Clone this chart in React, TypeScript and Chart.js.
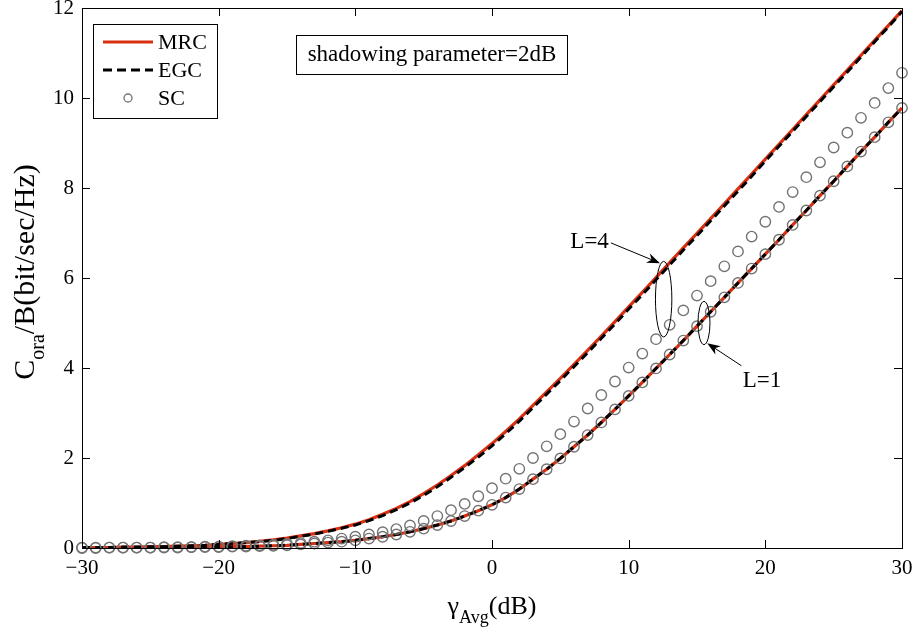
import React, { useEffect, useRef } from 'react';
import { Chart, registerables } from 'chart.js';

Chart.register(...registerables);

// ---------- data ----------
const gammaDb = [
  -30, -29, -28, -27, -26, -25, -24, -23, -22, -21,
  -20, -19, -18, -17, -16, -15, -14, -13, -12, -11,
  -10, -9, -8, -7, -6, -5, -4, -3, -2, -1,
  0, 1, 2, 3, 4, 5, 6, 7, 8, 9,
  10, 11, 12, 13, 14, 15, 16, 17, 18, 19,
  20, 21, 22, 23, 24, 25, 26, 27, 28, 29, 30,
];

// L = 4, MRC
const mrcL4 = [
  0.01, 0.01, 0.01, 0.02, 0.02, 0.03, 0.03, 0.04, 0.05, 0.06,
  0.08, 0.10, 0.12, 0.15, 0.18, 0.22, 0.27, 0.32, 0.38, 0.45,
  0.53, 0.63, 0.75, 0.88, 1.03, 1.21, 1.40, 1.61, 1.83, 2.07,
  2.32, 2.59, 2.87, 3.17, 3.47, 3.77, 4.08, 4.39, 4.71, 5.03,
  5.36, 5.68, 6.01, 6.34, 6.67, 6.99, 7.32, 7.65, 7.98, 8.31,
  8.64, 8.97, 9.30, 9.63, 9.96, 10.29, 10.62, 10.95, 11.28, 11.61, 11.94,
];

// L = 4, EGC
const egcL4 = [
  0.01, 0.01, 0.01, 0.02, 0.02, 0.03, 0.03, 0.04, 0.05, 0.06,
  0.08, 0.10, 0.12, 0.14, 0.17, 0.21, 0.26, 0.31, 0.37, 0.44,
  0.51, 0.61, 0.72, 0.85, 1.00, 1.17, 1.36, 1.57, 1.79, 2.02,
  2.27, 2.54, 2.82, 3.12, 3.42, 3.72, 4.03, 4.34, 4.66, 4.98,
  5.31, 5.63, 5.96, 6.29, 6.62, 6.94, 7.27, 7.60, 7.93, 8.26,
  8.60, 8.93, 9.26, 9.59, 9.92, 10.25, 10.58, 10.91, 11.25, 11.58, 11.92,
];

// L = 4, SC
const scL4 = [
  0.01, 0.01, 0.01, 0.01, 0.01, 0.01, 0.02, 0.02, 0.02, 0.03,
  0.03, 0.04, 0.05, 0.06, 0.07, 0.09, 0.11, 0.14, 0.17, 0.21,
  0.25, 0.30, 0.35, 0.42, 0.50, 0.60, 0.71, 0.84, 0.98, 1.15,
  1.33, 1.54, 1.76, 2.00, 2.26, 2.53, 2.81, 3.10, 3.40, 3.70,
  4.01, 4.32, 4.64, 4.96, 5.28, 5.61, 5.93, 6.26, 6.59, 6.92,
  7.25, 7.58, 7.91, 8.24, 8.57, 8.90, 9.23, 9.56, 9.89, 10.22, 10.56,
];

// L = 1 (MRC = EGC = SC)
const capL1 = [
  0.00, 0.00, 0.01, 0.01, 0.01, 0.01, 0.01, 0.01, 0.02, 0.02,
  0.02, 0.03, 0.03, 0.04, 0.05, 0.06, 0.08, 0.10, 0.12, 0.14,
  0.17, 0.21, 0.25, 0.30, 0.36, 0.43, 0.51, 0.60, 0.71, 0.83,
  0.96, 1.12, 1.31, 1.53, 1.75, 1.99, 2.25, 2.51, 2.79, 3.08,
  3.38, 3.68, 3.99, 4.30, 4.61, 4.93, 5.25, 5.57, 5.89, 6.21,
  6.53, 6.85, 7.18, 7.50, 7.83, 8.15, 8.48, 8.81, 9.13, 9.46, 9.78,
];

const xTicks = [-30, -20, -10, 0, 10, 20, 30];
const yTicks = [0, 2, 4, 6, 8, 10, 12];

const legendLabels = ['MRC', 'EGC', 'SC'];
const noteText = 'shadowing parameter=2dB';

// ---------- styles ----------
const RED = 'rgb(217,48,18)';
const GRAY = 'rgb(115,115,115)';
const FONT = '"Liberation Serif", "Times New Roman", serif';

const pts = (ys: number[]) => gammaDb.map((x, i) => ({ x, y: ys[i] }));
const fmt = (v: number) => (v < 0 ? '\u2212' + Math.abs(v) : String(v));

function drawArrow(ctx: CanvasRenderingContext2D, x0: number, y0: number, x1: number, y1: number) {
  const ang = Math.atan2(y1 - y0, x1 - x0);
  const len = 13;
  const half = 5;
  ctx.save();
  ctx.strokeStyle = '#000';
  ctx.fillStyle = '#000';
  ctx.lineWidth = 1;
  ctx.beginPath();
  ctx.moveTo(x0, y0);
  ctx.lineTo(x1 - Math.cos(ang) * 6, y1 - Math.sin(ang) * 6);
  ctx.stroke();
  ctx.translate(x1, y1);
  ctx.rotate(ang);
  ctx.beginPath();
  ctx.moveTo(0, 0);
  ctx.lineTo(-len, -half);
  ctx.lineTo(-len * 0.7, 0);
  ctx.lineTo(-len, half);
  ctx.closePath();
  ctx.fill();
  ctx.restore();
}

const decorPlugin = {
  id: 'decor',
  afterDatasetsDraw(chart: any) {
    const { ctx, chartArea: a, scales } = chart;
    const xs = scales.x;
    const ys = scales.y;
    ctx.save();
    // frame
    ctx.strokeStyle = '#000';
    ctx.lineWidth = 1;
    ctx.strokeRect(a.left + 0.5, a.top + 0.5, a.right - a.left, a.bottom - a.top);
    // inward ticks
    const tl = 8;
    ctx.beginPath();
    xTicks.forEach((v) => {
      const px = Math.round(xs.getPixelForValue(v)) + 0.5;
      ctx.moveTo(px, a.bottom);
      ctx.lineTo(px, a.bottom - tl);
      ctx.moveTo(px, a.top);
      ctx.lineTo(px, a.top + tl);
    });
    yTicks.forEach((v) => {
      const py = Math.round(ys.getPixelForValue(v)) + 0.5;
      ctx.moveTo(a.left, py);
      ctx.lineTo(a.left + tl, py);
      ctx.moveTo(a.right, py);
      ctx.lineTo(a.right - tl, py);
    });
    ctx.stroke();

    // ellipses
    const ell = (cx: number, cy: number, rx: number, ry: number) => {
      const px = xs.getPixelForValue(cx);
      const py = ys.getPixelForValue(cy);
      const prx = Math.abs(xs.getPixelForValue(cx + rx) - px);
      const pry = Math.abs(ys.getPixelForValue(cy + ry) - py);
      ctx.beginPath();
      ctx.ellipse(px, py, prx, pry, 0, 0, Math.PI * 2);
      ctx.stroke();
    };
    ell(12.56, 5.53, 0.6, 0.84);
    ell(15.51, 5.0, 0.44, 0.48);

    // arrows + labels
    ctx.font = `23px ${FONT}`;
    ctx.fillStyle = '#000';
    ctx.textBaseline = 'middle';
    drawArrow(ctx, xs.getPixelForValue(8.7), ys.getPixelForValue(6.78), xs.getPixelForValue(12.29), ys.getPixelForValue(6.33));
    ctx.textAlign = 'right';
    ctx.fillText('L=4', xs.getPixelForValue(8.55), ys.getPixelForValue(6.8));
    drawArrow(ctx, xs.getPixelForValue(18.25), ys.getPixelForValue(4.05), xs.getPixelForValue(15.75), ys.getPixelForValue(4.55));
    ctx.textAlign = 'left';
    ctx.fillText('L=1', xs.getPixelForValue(18.35), ys.getPixelForValue(3.72));

    // note box
    const bx = a.left + 214;
    const by = a.top + 27;
    ctx.fillStyle = '#fff';
    ctx.fillRect(bx, by, 271, 39);
    ctx.strokeRect(bx + 0.5, by + 0.5, 271, 39);
    ctx.fillStyle = '#000';
    ctx.textAlign = 'center';
    ctx.font = `23px ${FONT}`;
    ctx.fillText(noteText, bx + 136, by + 20);

    // legend
    const lx = a.left + 11;
    const ly = a.top + 16;
    ctx.fillStyle = '#fff';
    ctx.fillRect(lx, ly, 124, 94);
    ctx.strokeRect(lx + 0.5, ly + 0.5, 124, 94);
    ctx.font = `22px ${FONT}`;
    ctx.textAlign = 'left';
    const rows = [ly + 18, ly + 46, ly + 74];
    // MRC
    ctx.strokeStyle = RED;
    ctx.lineWidth = 3;
    ctx.beginPath();
    ctx.moveTo(lx + 10, rows[0]);
    ctx.lineTo(lx + 60, rows[0]);
    ctx.stroke();
    // EGC
    ctx.strokeStyle = '#000';
    ctx.lineWidth = 3;
    ctx.setLineDash([9, 5]);
    ctx.beginPath();
    ctx.moveTo(lx + 10, rows[1]);
    ctx.lineTo(lx + 60, rows[1]);
    ctx.stroke();
    ctx.setLineDash([]);
    // SC
    ctx.strokeStyle = GRAY;
    ctx.lineWidth = 1.3;
    ctx.beginPath();
    ctx.arc(lx + 35, rows[2], 4, 0, Math.PI * 2);
    ctx.stroke();
    ctx.fillStyle = '#000';
    legendLabels.forEach((t, i) => ctx.fillText(t, lx + 65, rows[i] + 1));
    ctx.restore();
  },
  afterDraw(chart: any) {
    const { ctx, chartArea: a } = chart;
    ctx.save();
    ctx.fillStyle = '#000';
    ctx.textBaseline = 'alphabetic';
    // x title: gamma_Avg(dB)
    const big = `26px ${FONT}`;
    const small = `18px ${FONT}`;
    ctx.font = big;
    const wG = ctx.measureText('\u03b3').width;
    const wD = ctx.measureText('(dB)').width;
    ctx.font = small;
    const wA = ctx.measureText('Avg').width;
    const totX = wG + wA + wD;
    let x = (a.left + a.right) / 2 - totX / 2;
    const base = 614;
    ctx.textAlign = 'left';
    ctx.font = big;
    ctx.fillText('\u03b3', x, base);
    x += wG;
    ctx.font = small;
    ctx.fillText('Avg', x, base + 9);
    x += wA;
    ctx.font = big;
    ctx.fillText('(dB)', x, base);

    // y title: C_ora/B(bit/sec/Hz)
    const bigY = `30px ${FONT}`;
    const smallY = `20px ${FONT}`;
    ctx.translate(34, 272);
    ctx.rotate(-Math.PI / 2);
    ctx.font = bigY;
    const wC = ctx.measureText('C').width;
    const wR = ctx.measureText('/B(bit/sec/Hz)').width;
    ctx.font = smallY;
    const wO = ctx.measureText('ora').width;
    const totY = wC + wO + wR;
    let y = -totY / 2;
    ctx.font = bigY;
    ctx.fillText('C', y, 0);
    y += wC;
    ctx.font = smallY;
    ctx.fillText('ora', y, 10);
    y += wO;
    ctx.font = bigY;
    ctx.fillText('/B(bit/sec/Hz)', y, 0);
    ctx.restore();
  },
};

export default function App() {
  const ref = useRef<HTMLCanvasElement | null>(null);

  useEffect(() => {
    if (!ref.current) return;
    const lineDs = (label: string, ys: number[], color: string, dash: number[], width: number, order: number) => ({
      label,
      data: pts(ys),
      borderColor: color,
      backgroundColor: color,
      borderWidth: width,
      borderDash: dash,
      pointRadius: 0,
      fill: false,
      tension: 0,
      order,
    });
    const scDs = (label: string, ys: number[]) => ({
      label,
      data: pts(ys),
      showLine: false,
      pointStyle: 'circle',
      pointRadius: 5.2,
      pointBorderColor: GRAY,
      pointBackgroundColor: 'rgba(0,0,0,0)',
      pointBorderWidth: 1.4,
      borderColor: GRAY,
      clip: false,
      order: 1,
    });
    const chart = new Chart(ref.current, {
      type: 'line',
      data: {
        datasets: [
          lineDs('MRC', mrcL4, RED, [], 3.2, 3),
          lineDs('MRC L=1', capL1, RED, [], 3.2, 3),
          lineDs('EGC', egcL4, '#000', [8, 5], 3, 2),
          lineDs('EGC L=1', capL1, '#000', [8, 5], 3, 2),
          scDs('SC', scL4),
          scDs('SC L=1', capL1),
        ] as any,
      },
      options: {
        responsive: false,
        animation: false,
        devicePixelRatio: 1,
        layout: { padding: { top: 8, right: 16, left: 0, bottom: 0 } },
        plugins: { legend: { display: false }, tooltip: { enabled: false }, title: { display: false } },
        scales: {
          x: {
            type: 'linear',
            min: -30,
            max: 30,
            grid: { display: false, drawTicks: false },
            border: { display: false },
            afterBuildTicks: (s: any) => {
              s.ticks = xTicks.map((v) => ({ value: v }));
            },
            afterFit: (s: any) => {
              s.height = 83;
              s.paddingLeft = 0;
              s.paddingRight = 0;
            },
            ticks: {
              autoSkip: false,
              maxRotation: 0,
              padding: 8,
              color: '#000',
              font: { family: FONT, size: 21 },
              callback: (v: any) => fmt(Number(v)),
            },
          },
          y: {
            type: 'linear',
            min: 0,
            max: 12,
            grid: { display: false, drawTicks: false },
            border: { display: false },
            afterBuildTicks: (s: any) => {
              s.ticks = yTicks.map((v) => ({ value: v }));
            },
            afterFit: (s: any) => {
              s.width = 82;
              s.paddingTop = 0;
              s.paddingBottom = 0;
            },
            ticks: {
              autoSkip: false,
              padding: 8,
              color: '#000',
              font: { family: FONT, size: 21 },
              callback: (v: any) => fmt(Number(v)),
            },
          },
        },
      } as any,
      plugins: [decorPlugin],
    });
    return () => chart.destroy();
  }, []);

  return (
    <div style={{ position: 'fixed', left: 0, top: 0, width: 918, height: 631, background: '#fff' }}>
      <canvas ref={ref} width={918} height={631} style={{ display: 'block', width: 918, height: 631 }} />
    </div>
  );
}
